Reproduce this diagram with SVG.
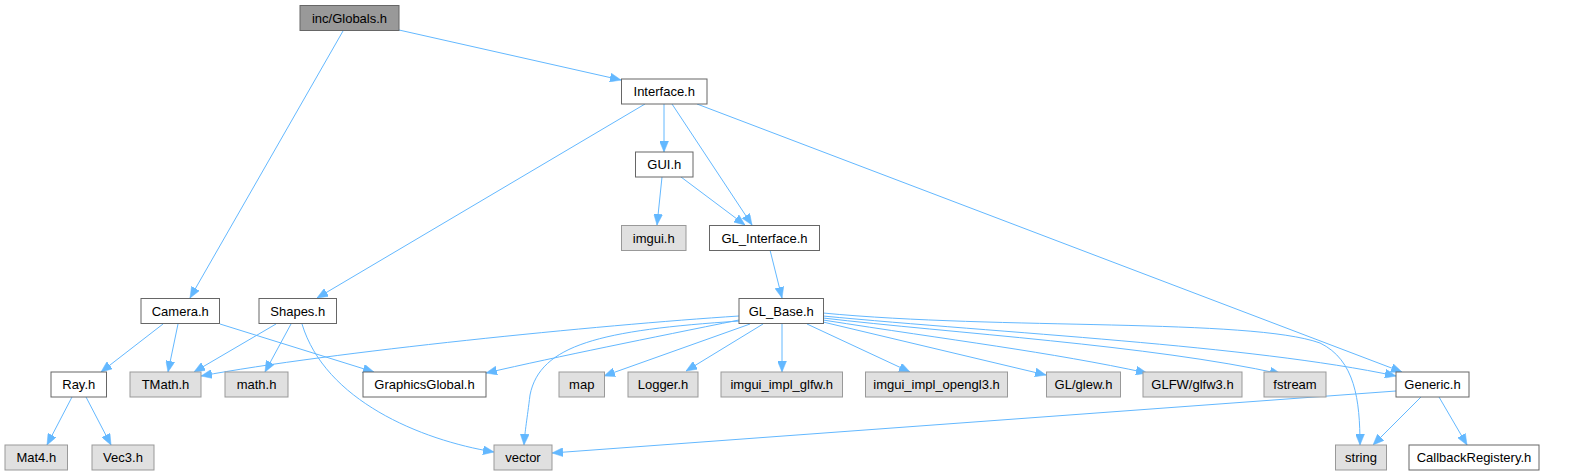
<svg xmlns="http://www.w3.org/2000/svg" width="1583" height="476" viewBox="0 0 1583 476">
<style>
.n rect{fill:#ffffff;stroke:#666666;stroke-width:1}
.g rect{fill:#e0e0e0;stroke:#999999;stroke-width:1}
.r rect{fill:#999999;stroke:#666666;stroke-width:1}
text{font-family:"Liberation Sans",Arial,sans-serif;font-size:13px;fill:#000000;text-anchor:middle}
.e path{fill:none;stroke:#63b8ff;stroke-width:1;marker-end:url(#ah)}
</style>
<defs>
<marker id="ah" viewBox="0 0 11 9" refX="11" refY="4.5" markerWidth="11" markerHeight="9" orient="auto" markerUnits="userSpaceOnUse">
<path d="M0,0 L11,4.5 L0,9 Z" fill="#63b8ff" stroke="#63b8ff" stroke-width="0.5"/>
</marker>
</defs>
<rect width="1583" height="476" fill="#ffffff"/>
<g id="edges" class="e">
<path d="M343,31 L190,298"/>
<path d="M399,30 L621,80"/>
<path d="M664,104 L664,152"/>
<path d="M672,104 L752,225"/>
<path d="M645,104 L317,298"/>
<path d="M697,104 L1402,372"/>
<path d="M662,177 L657,225"/>
<path d="M681,177 L745,225"/>
<path d="M770,250 L782,298"/>
<path d="M163,324 L101,372"/>
<path d="M178,324 L168,372"/>
<path d="M220,324 L374,372"/>
<path d="M276,324 L194,372"/>
<path d="M291,324 L265,372"/>
<path d="M302,324 C325,400 420,440 494,452"/>
<path d="M72,397 L47,445"/>
<path d="M86,397 L111,445"/>
<path d="M739,316 C600,325 330,352 201,376"/>
<path d="M739,320 C650,338 560,356 486,373"/>
<path d="M740,321 C600,330 540,345 530,395 C527,420 525,430 524,445"/>
<path d="M750,324 L604,376"/>
<path d="M763,324 L686,371"/>
<path d="M782,324 L782,372"/>
<path d="M807,324 L910,372"/>
<path d="M823,322 L1046,375"/>
<path d="M823,320 C950,340 1050,352 1147,373"/>
<path d="M823,318 C950,333 1150,345 1281,374"/>
<path d="M823,316 C1000,333 1250,345 1396,376"/>
<path d="M823,313 C1000,330 1250,318 1320,343 C1355,360 1360,400 1360,445"/>
<path d="M1396,391 L552,453"/>
<path d="M1421,397 L1373,445"/>
<path d="M1439,397 L1467,445"/>
</g>
<g id="n_globals" class="r"><rect x="300" y="5.5" width="99" height="25"/><text x="349.5" y="22.5">inc/Globals.h</text></g>
<g id="n_interface" class="n"><rect x="621.5" y="79" width="85.5" height="25"/><text x="664.25" y="96">Interface.h</text></g>
<g id="n_gui" class="n"><rect x="635.5" y="152" width="57.5" height="25"/><text x="664.25" y="169">GUI.h</text></g>
<g id="n_imgui" class="g"><rect x="621.5" y="225.5" width="64.5" height="25"/><text x="653.75" y="242.5">imgui.h</text></g>
<g id="n_glinterface" class="n"><rect x="709.5" y="225.5" width="110" height="25"/><text x="764.5" y="242.5">GL_Interface.h</text></g>
<g id="n_camera" class="n"><rect x="141" y="298.5" width="78.5" height="25"/><text x="180.25" y="315.5">Camera.h</text></g>
<g id="n_shapes" class="n"><rect x="259" y="298.5" width="77.5" height="25"/><text x="297.75" y="315.5">Shapes.h</text></g>
<g id="n_glbase" class="n"><rect x="739" y="298.5" width="84.5" height="25"/><text x="781.25" y="315.5">GL_Base.h</text></g>
<g id="n_ray" class="n"><rect x="51" y="372" width="55.5" height="25"/><text x="78.75" y="389">Ray.h</text></g>
<g id="n_tmath" class="g"><rect x="130" y="372" width="71" height="25"/><text x="165.5" y="389">TMath.h</text></g>
<g id="n_math" class="g"><rect x="225" y="372" width="63" height="25"/><text x="256.5" y="389">math.h</text></g>
<g id="n_graphicsglobal" class="n"><rect x="363" y="372" width="123" height="25"/><text x="424.5" y="389">GraphicsGlobal.h</text></g>
<g id="n_map" class="g"><rect x="559" y="372" width="45.5" height="25"/><text x="581.75" y="389">map</text></g>
<g id="n_logger" class="g"><rect x="628" y="372" width="70" height="25"/><text x="663" y="389">Logger.h</text></g>
<g id="n_imguiglfw" class="g"><rect x="721" y="372" width="121.5" height="25"/><text x="781.75" y="389">imgui_impl_glfw.h</text></g>
<g id="n_imguiopengl3" class="g"><rect x="865.5" y="372" width="142" height="25"/><text x="936.5" y="389">imgui_impl_opengl3.h</text></g>
<g id="n_glew" class="g"><rect x="1046.5" y="372" width="74" height="25"/><text x="1083.5" y="389">GL/glew.h</text></g>
<g id="n_glfw3" class="g"><rect x="1143" y="372" width="99" height="25"/><text x="1192.5" y="389">GLFW/glfw3.h</text></g>
<g id="n_fstream" class="g"><rect x="1264" y="372" width="62" height="25"/><text x="1295" y="389">fstream</text></g>
<g id="n_generic" class="n"><rect x="1396" y="372" width="73" height="25"/><text x="1432.5" y="389">Generic.h</text></g>
<g id="n_mat4" class="g"><rect x="5" y="445" width="62.5" height="25"/><text x="36.25" y="462">Mat4.h</text></g>
<g id="n_vec3" class="g"><rect x="92" y="445" width="62" height="25"/><text x="123" y="462">Vec3.h</text></g>
<g id="n_vector" class="g"><rect x="494" y="445" width="58" height="25"/><text x="523" y="462">vector</text></g>
<g id="n_string" class="g"><rect x="1335.5" y="445" width="51" height="25"/><text x="1361" y="462">string</text></g>
<g id="n_callback" class="n"><rect x="1409" y="445" width="130" height="25"/><text x="1474" y="462">CallbackRegistery.h</text></g>
</svg>
